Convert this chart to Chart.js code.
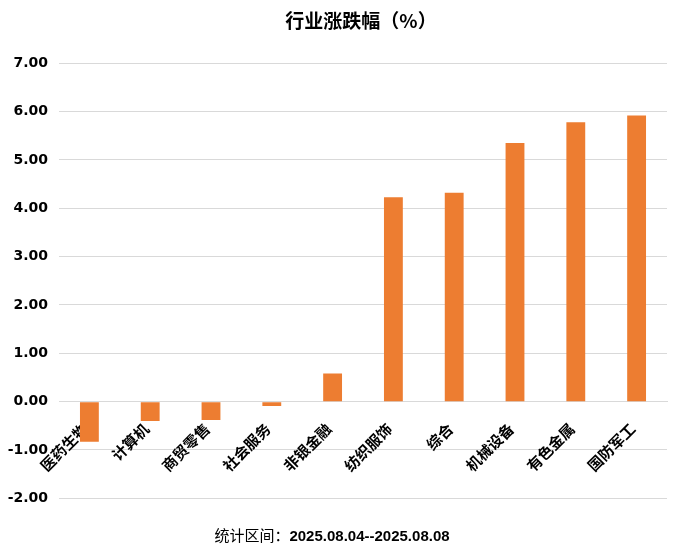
<!DOCTYPE html>
<html>
<head>
<meta charset="utf-8">
<script src="https://cdn.jsdelivr.net/npm/chart.js@4/dist/chart.umd.min.js"></script>
<style>
  html, body { margin: 0; padding: 0; background: #fff; }
  #wrap { position: relative; width: 680px; height: 554px; }
  #title { position: absolute; left: 0; width: 722px; top: 6px; text-align: center;
    font: bold 19px "Noto Sans CJK SC", sans-serif; color: #000; }
  #footer { position: absolute; left: 0; width: 664px; top: 524px; text-align: center;
    font: 15px "Noto Sans CJK SC", sans-serif; color: #000; }
  #footer b { font: bold 15px "Liberation Sans", sans-serif; }
</style>
</head>
<body>
<div id="wrap">
  <canvas id="c" width="680" height="554"></canvas>
  <div id="title">行业涨跌幅（%）</div>
  <div id="footer">统计区间：<b>2025.08.04--2025.08.08</b></div>
</div>
<script>
const categories = ["医药生物", "计算机", "商贸零售", "社会服务", "非银金融", "纺织服饰", "综合", "机械设备", "有色金属", "国防军工"];
const changes = [-0.83, -0.40, -0.38, -0.09, 0.58, 4.23, 4.32, 5.35, 5.78, 5.92];
const yTicks = [-2, -1, 0, 1, 2, 3, 4, 5, 6, 7];

new Chart(document.getElementById('c'), {
  type: 'bar',
  data: {
    labels: categories,
    datasets: [{
      label: '行业涨跌幅（%）',
      data: changes,
      backgroundColor: '#ED7D31',
      borderWidth: 0,
      barPercentage: 0.31,
      categoryPercentage: 1.0
    }]
  },
  options: {
    responsive: false,
    animation: false,
    layout: { padding: { top: 63.3, bottom: 55.7, left: 0, right: 13 } },
    plugins: { legend: { display: false }, title: { display: false }, tooltip: { enabled: false } },
    scales: {
      y: {
        min: -2, max: 7,
        afterFit: (s) => { s.width = 59; },
        afterBuildTicks: (s) => { s.ticks = yTicks.map(v => ({ value: v })); },
        grid: { color: '#d9d9d9', lineWidth: 1, drawTicks: false },
        border: { display: false },
        ticks: {
          padding: 11,
          color: '#000',
          font: { family: '"DejaVu Sans", sans-serif', size: 14, weight: 'bold' },
          callback: (v) => Number(v).toFixed(2)
        }
      },
      x: {
        position: { y: 0 },
        z: 1,
        grid: { display: false, drawTicks: false },
        border: { display: true, color: '#d9d9d9' },
        ticks: {
          autoSkip: false,
          minRotation: 45, maxRotation: 45,
          padding: 18,
          labelOffset: -4,
          color: '#000',
          font: { family: '"Noto Sans CJK SC", sans-serif', size: 15, weight: 'bold' }
        }
      }
    }
  }
});
</script>
</body>
</html>
